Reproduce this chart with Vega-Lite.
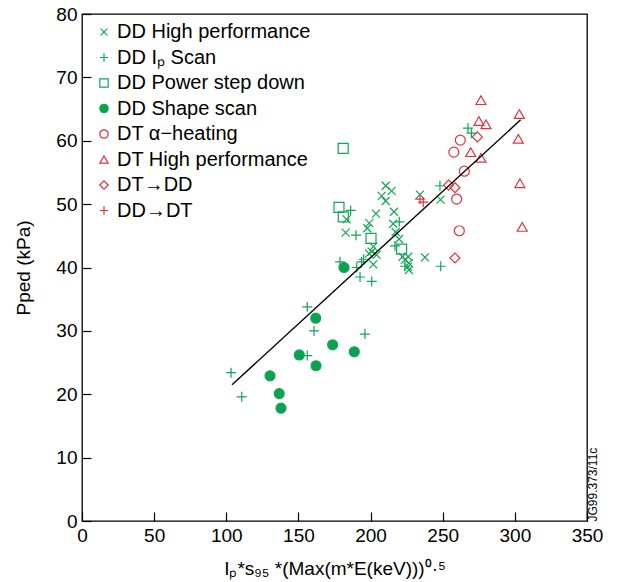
{
  "$schema": "https://vega.github.io/schema/vega-lite/v6.json",
  "autosize": "none",
  "width": 505,
  "height": 507,
  "padding": {"left": 82, "top": 14, "right": 30, "bottom": 61},
  "background": "white",
  "config": {
    "font": "Liberation Sans",
    "view": {"stroke": "#000", "strokeWidth": 1.3},
    "axis": {"grid": false, "labelFlush": false, "labelOverlap": false, "domainColor": "#000", "domainWidth": 1.2, "tickColor": "#000", "tickWidth": 1.2, "labelColor": "#000", "titleColor": "#000", "labelFont": "Liberation Sans", "titleFont": "Liberation Sans", "labelFontSize": 19, "titleFontSize": 19, "titleFontWeight": "normal"}
  },
  "datasets": {
    "pts": [
      {"s": "DD High performance", "x": 210.5, "y": 52.9},
      {"s": "DD High performance", "x": 214.6, "y": 52.1},
      {"s": "DD High performance", "x": 207.7, "y": 51.3},
      {"s": "DD High performance", "x": 210.5, "y": 50.5},
      {"s": "DD High performance", "x": 234.2, "y": 51.5},
      {"s": "DD High performance", "x": 248.5, "y": 50.7},
      {"s": "DD High performance", "x": 183.4, "y": 47.6},
      {"s": "DD High performance", "x": 203.7, "y": 48.5},
      {"s": "DD High performance", "x": 199.1, "y": 47.0},
      {"s": "DD High performance", "x": 197.7, "y": 46.2},
      {"s": "DD High performance", "x": 182.7, "y": 45.5},
      {"s": "DD High performance", "x": 216.2, "y": 48.8},
      {"s": "DD High performance", "x": 215.7, "y": 46.9},
      {"s": "DD High performance", "x": 217.4, "y": 45.6},
      {"s": "DD High performance", "x": 219.7, "y": 44.5},
      {"s": "DD High performance", "x": 201.9, "y": 43.3},
      {"s": "DD High performance", "x": 200.8, "y": 42.5},
      {"s": "DD High performance", "x": 198.9, "y": 42.2},
      {"s": "DD High performance", "x": 204.2, "y": 42.0},
      {"s": "DD High performance", "x": 201.9, "y": 40.5},
      {"s": "DD High performance", "x": 222.2, "y": 41.7},
      {"s": "DD High performance", "x": 226.1, "y": 41.7},
      {"s": "DD High performance", "x": 223.8, "y": 41.2},
      {"s": "DD High performance", "x": 226.6, "y": 40.7},
      {"s": "DD High performance", "x": 225.9, "y": 40.1},
      {"s": "DD High performance", "x": 226.6, "y": 39.6},
      {"s": "DD High performance", "x": 237.7, "y": 41.6},
      {"s": "DD Iₚ Scan", "x": 186.2, "y": 49.0},
      {"s": "DD Iₚ Scan", "x": 189.9, "y": 45.1},
      {"s": "DD Iₚ Scan", "x": 219.9, "y": 47.2},
      {"s": "DD Iₚ Scan", "x": 216.9, "y": 43.4},
      {"s": "DD Iₚ Scan", "x": 178.8, "y": 40.9},
      {"s": "DD Iₚ Scan", "x": 190.4, "y": 40.0},
      {"s": "DD Iₚ Scan", "x": 193.8, "y": 40.9},
      {"s": "DD Iₚ Scan", "x": 195.2, "y": 41.3},
      {"s": "DD Iₚ Scan", "x": 192.7, "y": 38.5},
      {"s": "DD Iₚ Scan", "x": 200.8, "y": 37.8},
      {"s": "DD Iₚ Scan", "x": 223.8, "y": 40.2},
      {"s": "DD Iₚ Scan", "x": 248.6, "y": 40.2},
      {"s": "DD Iₚ Scan", "x": 248.1, "y": 52.9},
      {"s": "DD Iₚ Scan", "x": 156.1, "y": 33.8},
      {"s": "DD Iₚ Scan", "x": 160.8, "y": 30.0},
      {"s": "DD Iₚ Scan", "x": 196.1, "y": 29.5},
      {"s": "DD Iₚ Scan", "x": 156.1, "y": 26.1},
      {"s": "DD Iₚ Scan", "x": 103.3, "y": 23.4},
      {"s": "DD Iₚ Scan", "x": 110.7, "y": 19.6},
      {"s": "DD Iₚ Scan", "x": 267.5, "y": 62.0},
      {"s": "DD Iₚ Scan", "x": 269.9, "y": 61.2},
      {"s": "DD Power step down", "x": 178.1, "y": 49.5},
      {"s": "DD Power step down", "x": 181.1, "y": 48.0},
      {"s": "DD Power step down", "x": 200.3, "y": 44.6},
      {"s": "DD Power step down", "x": 221.5, "y": 42.9},
      {"s": "DD Power step down", "x": 181.0, "y": 58.8},
      {"s": "DD Shape scan", "x": 181.6, "y": 40.0},
      {"s": "DD Shape scan", "x": 162.0, "y": 32.0},
      {"s": "DD Shape scan", "x": 173.7, "y": 27.8},
      {"s": "DD Shape scan", "x": 188.7, "y": 26.7},
      {"s": "DD Shape scan", "x": 150.6, "y": 26.2},
      {"s": "DD Shape scan", "x": 162.2, "y": 24.5},
      {"s": "DD Shape scan", "x": 130.3, "y": 22.9},
      {"s": "DD Shape scan", "x": 136.7, "y": 20.1},
      {"s": "DD Shape scan", "x": 137.9, "y": 17.8},
      {"s": "DT α−heating", "x": 262.2, "y": 60.1},
      {"s": "DT α−heating", "x": 257.7, "y": 58.2},
      {"s": "DT α−heating", "x": 265.0, "y": 55.2},
      {"s": "DT α−heating", "x": 259.7, "y": 50.8},
      {"s": "DT α−heating", "x": 261.5, "y": 45.8},
      {"s": "DT High performance", "x": 276.5, "y": 66.4},
      {"s": "DT High performance", "x": 303.1, "y": 64.2},
      {"s": "DT High performance", "x": 275.1, "y": 63.1},
      {"s": "DT High performance", "x": 280.0, "y": 62.6},
      {"s": "DT High performance", "x": 302.4, "y": 60.3},
      {"s": "DT High performance", "x": 269.4, "y": 58.2},
      {"s": "DT High performance", "x": 276.5, "y": 57.3},
      {"s": "DT High performance", "x": 303.5, "y": 53.3},
      {"s": "DT High performance", "x": 305.1, "y": 46.4},
      {"s": "DT→DD", "x": 274.0, "y": 60.6},
      {"s": "DT→DD", "x": 254.1, "y": 53.0},
      {"s": "DT→DD", "x": 258.5, "y": 52.6},
      {"s": "DT→DD", "x": 258.5, "y": 41.5},
      {"s": "DD→DT", "x": 234.2, "y": 50.8},
      {"s": "DD→DT", "x": 236.5, "y": 50.3}
    ],
    "fit": [
      {"x": 104.0, "y": 21.5},
      {"x": 304.0, "y": 63.3}
    ]
  },
  "resolve": {"axis": {"y": "independent"}},
  "layer": [
    {
      "data": {"name": "pts"},
      "mark": {"type": "point", "size": 100, "strokeWidth": 1.2, "opacity": 1},
      "encoding": {
        "x": {"field": "x", "type": "quantitative", "scale": {"domain": [0, 350], "nice": false},
          "axis": {"values": [0, 50, 100, 150, 200, 250, 300, 350], "offset": -9, "tickSize": 9, "domain": false, "labelPadding": 5, "title": "Iₚ*s₉₅ *(Max(m*E(keV)))⁰·⁵", "titlePadding": 14}},
        "y": {"field": "y", "type": "quantitative", "scale": {"domain": [0, 80], "nice": false},
          "axis": {"values": [0, 10, 20, 30, 40, 50, 60, 70, 80], "offset": -9, "tickSize": 9, "domain": false, "labelPadding": 5, "title": "Pped (kPa)", "titlePadding": 22}},
        "stroke": {"field": "s", "type": "nominal",
          "scale": {"domain": ["DD High performance", "DD Iₚ Scan", "DD Power step down", "DD Shape scan", "DT α−heating", "DT High performance", "DT→DD", "DD→DT"],
            "range": ["#13a556", "#13a556", "#13a556", "#13a556", "#e3323d", "#e3323d", "#e3323d", "#e3323d"]},
          "legend": {"title": null, "orient": "none", "legendX": 12, "legendY": 8, "labelFontSize": 20, "labelLimit": 0, "labelColor": "#000", "labelFont": "Liberation Sans", "symbolSize": 70, "symbolStrokeWidth": 1.2, "rowPadding": 5.5, "labelOffset": 3, "padding": 0, "symbolOpacity": 1}},
        "fill": {"field": "s", "type": "nominal",
          "scale": {"domain": ["DD High performance", "DD Iₚ Scan", "DD Power step down", "DD Shape scan", "DT α−heating", "DT High performance", "DT→DD", "DD→DT"],
            "range": ["transparent", "transparent", "transparent", "#0aa24f", "transparent", "transparent", "transparent", "transparent"]}},
        "shape": {"field": "s", "type": "nominal",
          "scale": {"domain": ["DD High performance", "DD Iₚ Scan", "DD Power step down", "DD Shape scan", "DT α−heating", "DT High performance", "DT→DD", "DD→DT"],
            "range": ["M-0.8,-0.8L0.8,0.8M-0.8,0.8L0.8,-0.8", "M-1,0L1,0M0,-1L0,1", "square", "circle", "circle", "triangle-up", "diamond", "M-1,0L1,0M0,-1L0,1"]}}
      }
    },
    {
      "data": {"name": "fit"},
      "mark": {"type": "line", "color": "#000", "strokeWidth": 1.4},
      "encoding": {
        "x": {"field": "x", "type": "quantitative", "scale": {"domain": [0, 350], "nice": false},
          "axis": {"values": [0, 50, 100, 150, 200, 250, 300, 350], "offset": -9, "tickSize": 9, "domain": false, "labelPadding": 5, "title": "Iₚ*s₉₅ *(Max(m*E(keV)))⁰·⁵", "titlePadding": 14}},
        "y": {"field": "y", "type": "quantitative", "scale": {"domain": [0, 80], "nice": false},
          "axis": {"orient": "right", "labels": false, "ticks": false, "domain": false, "title": "JG99.373/11c", "titleFontSize": 12, "titleAngle": 270, "titleAnchor": "start", "titlePadding": 12, "titleBaseline": "bottom"}}
      }
    }
  ]
}
